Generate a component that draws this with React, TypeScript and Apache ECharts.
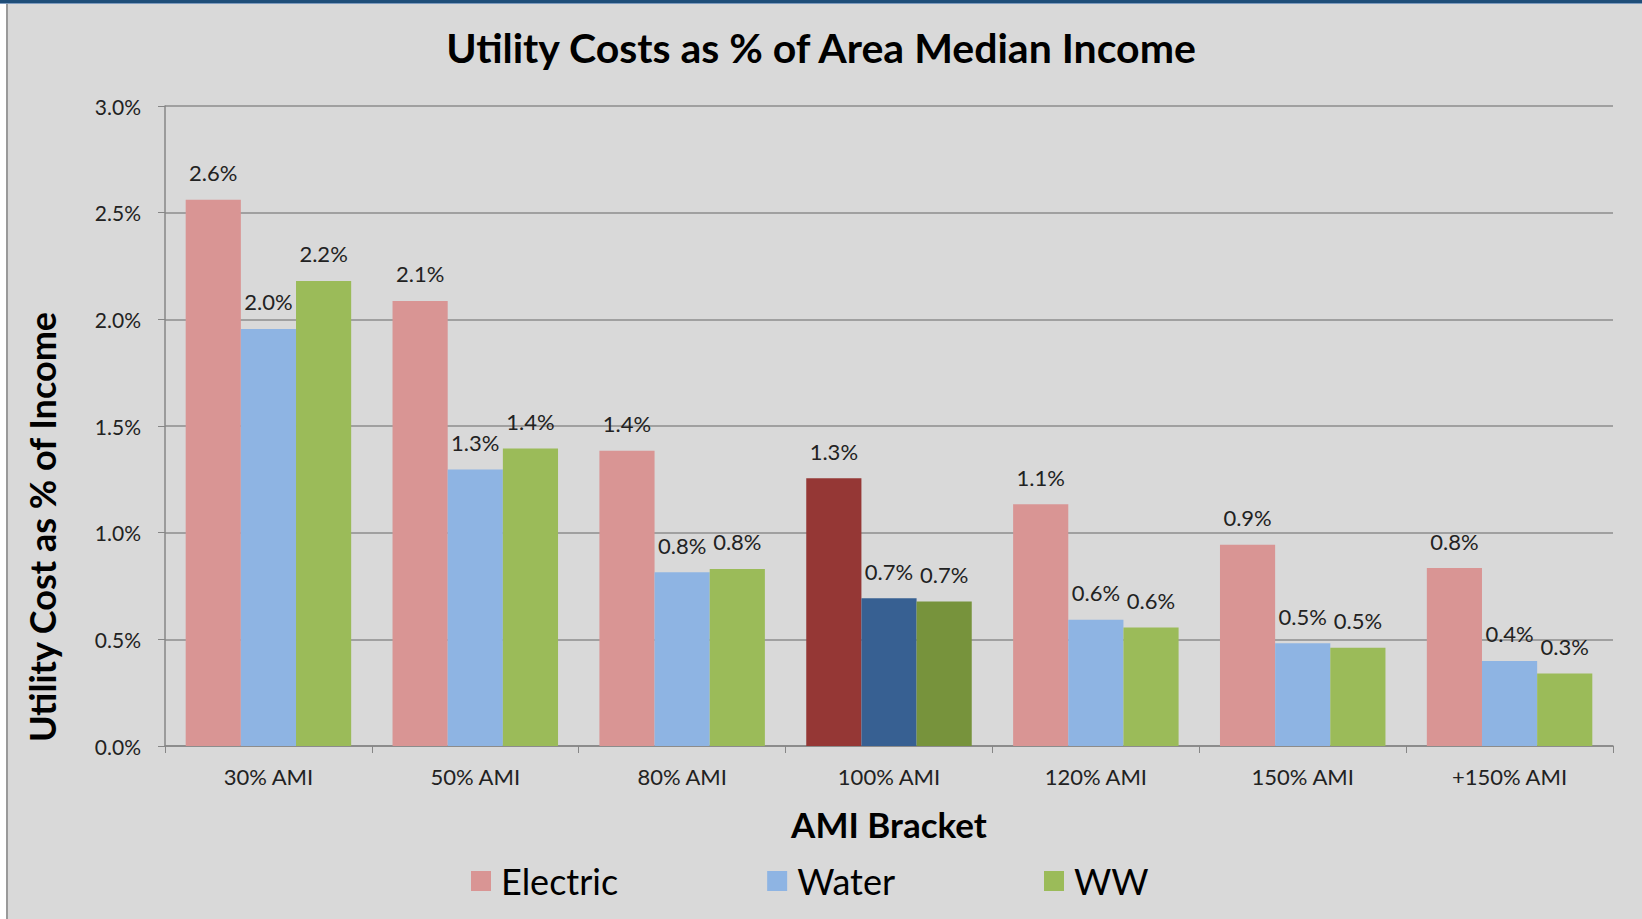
import React, { useEffect, useRef } from "react";
import * as echarts from "echarts";

const categories = ["30% AMI", "50% AMI", "80% AMI", "100% AMI", "120% AMI", "150% AMI", "+150% AMI"];
const electric = [2.56, 2.086, 1.384, 1.255, 1.133, 0.943, 0.834];
const water = [1.955, 1.296, 0.815, 0.692, 0.592, 0.482, 0.399];
const ww = [2.18, 1.394, 0.83, 0.677, 0.556, 0.46, 0.34];
const yTicks = [0, 0.5, 1, 1.5, 2, 2.5, 3];

const seriesNames = ["Electric", "Water", "WW"];
const baseColors = ["#d99594", "#8eb4e3", "#9bbb59"];
const highlightColors = ["#953735", "#376092", "#77933c"];
const highlightIndex = 3;

const FONT = "Lato, 'Open Sans', sans-serif";

export default function App() {
  const ref = useRef<HTMLDivElement>(null);
  useEffect(() => {
    if (!ref.current) return;
    const chart = echarts.init(ref.current, undefined, { renderer: "svg" });
    const allSeries = [electric, water, ww];
    chart.setOption({
      animation: false,
      backgroundColor: "#d9d9d9",
      textStyle: { fontFamily: FONT },
      title: {
        text: "Utility Costs as % of Area Median Income",
        left: "center",
        top: 22,
        textStyle: { fontFamily: FONT, fontSize: 41, fontWeight: "bold", color: "#000" },
      },
      legend: {
        data: seriesNames,
        left: 466,
        top: 858,
        itemWidth: 20,
        itemHeight: 20,
        itemGap: 149,
        icon: "rect",
        textStyle: { fontFamily: FONT, fontSize: 36, color: "#000", padding: [0, 0, 0, 5] },
      },
      grid: { left: 165, right: 29, top: 106, bottom: 173, containLabel: false },
      xAxis: {
        type: "category",
        data: categories,
        axisLine: { lineStyle: { color: "#868686", width: 1.5 } },
        axisTick: { show: true, length: 7, lineStyle: { color: "#868686" } },
        axisLabel: { fontFamily: FONT, fontSize: 22, color: "#222", margin: 19 },
        name: "AMI Bracket",
        nameLocation: "middle",
        nameGap: 60,
        nameTextStyle: { fontFamily: FONT, fontSize: 35, fontWeight: "bold", color: "#000" },
      },
      yAxis: {
        type: "value",
        min: yTicks[0],
        max: yTicks[yTicks.length - 1],
        interval: 0.5,
        axisLine: { show: true, lineStyle: { color: "#868686", width: 1.5 } },
        axisTick: { show: true, length: 7, lineStyle: { color: "#868686" } },
        splitLine: { lineStyle: { color: "#8c8c8c", width: 1.5 } },
        axisLabel: {
          fontFamily: FONT,
          fontSize: 21,
          color: "#222",
          margin: 24,
          formatter: (v: number) => v.toFixed(1) + "%",
        },
      },
      graphic: [
        {
          type: "text",
          x: 42,
          y: 527,
          rotation: Math.PI / 2,
          style: {
            text: "Utility Cost as % of Income",
            fontFamily: FONT,
            fontSize: 36,
            fontWeight: "bold",
            fill: "#000",
            textAlign: "center",
            textVerticalAlign: "middle",
          },
        },
        { type: "rect", shape: { x: 0, y: 0, width: 6, height: 919 }, style: { fill: "#ffffff" } },
        { type: "rect", shape: { x: 6, y: 0, width: 2, height: 919 }, style: { fill: "#9a9a9a" } },
        { type: "rect", shape: { x: 0, y: 0, width: 1642, height: 3 }, style: { fill: "#1f4e79" } },
        { type: "rect", shape: { x: 0, y: 3, width: 1642, height: 1 }, style: { fill: "#7f9cbf" } },
      ],
      series: seriesNames.map((name, si) => ({
        name,
        type: "bar",
        barGap: "0%",
        barCategoryGap: "20%",
        itemStyle: { color: baseColors[si] },
        data: allSeries[si].map((v, i) =>
          i === highlightIndex ? { value: v, itemStyle: { color: highlightColors[si] } } : v
        ),
        label: {
          show: true,
          position: "top",
          distance: 16,
          fontFamily: FONT,
          fontSize: 22,
          color: "#222",
          formatter: (p: any) => (p.value as number).toFixed(1) + "%",
        },
      })),
    });
    return () => chart.dispose();
  }, []);
  return (
    <div
      ref={ref}
      style={{ position: "absolute", left: 0, top: 0, width: 1642, height: 919 }}
    />
  );
}
